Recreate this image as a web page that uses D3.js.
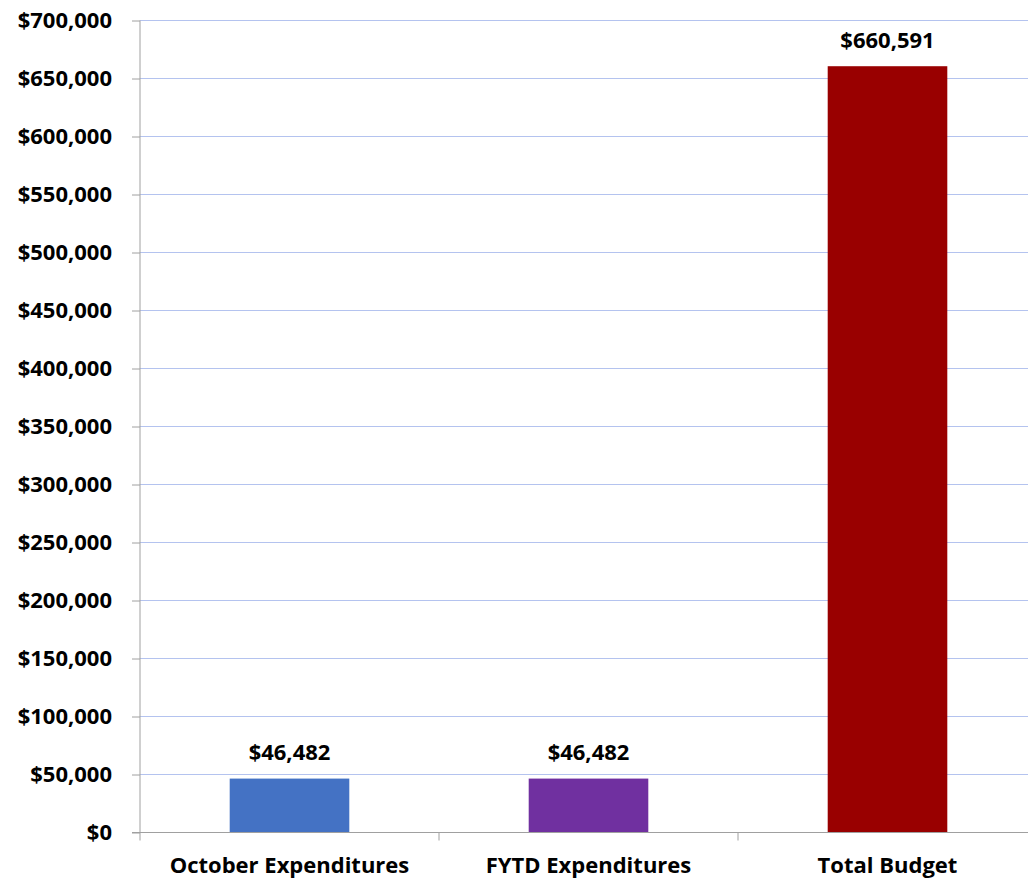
<!DOCTYPE html>
<html>
<head>
<meta charset="utf-8">
<script src="https://cdn.jsdelivr.net/npm/d3@7"></script>
<style>
	body { margin: 0; background: #fff; }
	text { font-family: "Open Sans", sans-serif; font-weight: bold; fill: #000; }
</style>
</head>
<body>
<script>
"use strict";

//chart data
const categories = ["October Expenditures", "FYTD Expenditures", "Total Budget"];
const values = [46482, 46482, 660591];
const bar_colors = ["#4472c4", "#7030a0", "#990000"];
const y_ticks = [0, 50000, 100000, 150000, 200000, 250000, 300000, 350000, 400000, 450000, 500000, 550000, 600000, 650000, 700000];

const width = 1028, height = 882;
const plot_left = 140, plot_right = 1037, plot_top = 20.5, plot_bottom = 832.5;
const font_size = 22;

let svg = d3.select("body").append("svg")
	.attr("width", width)
	.attr("height", height);

let x = d3.scaleBand()
	.domain(categories)
	.range([plot_left, plot_right])
	.paddingInner(0.6)
	.paddingOuter(0.3);

let y = d3.scaleLinear()
	.domain([0, 700000])
	.range([plot_bottom, plot_top]);

let money = d3.format("$,");

//gridlines
svg.append("g")
	.selectAll("line")
	.data(y_ticks.slice(1))
	.join("line")
	.attr("x1", plot_left)
	.attr("x2", plot_right)
	.attr("y1", d => y(d))
	.attr("y2", d => y(d))
	.attr("stroke", "#b4c3ef")
	.attr("stroke-width", 1);

//bars
svg.append("g")
	.selectAll("rect")
	.data(values)
	.join("rect")
	.attr("x", (d, i) => x(categories[i]))
	.attr("width", x.bandwidth())
	.attr("y", d => y(d))
	.attr("height", d => plot_bottom - y(d))
	.attr("fill", (d, i) => bar_colors[i]);

//value labels
svg.append("g")
	.selectAll("text")
	.data(values)
	.join("text")
	.attr("x", (d, i) => x(categories[i]) + x.bandwidth() / 2)
	.attr("y", d => y(d) - 18.5)
	.attr("text-anchor", "middle")
	.attr("font-size", font_size)
	.text(d => money(d));

//y axis
let y_axis = svg.append("g")
	.attr("transform", "translate(" + plot_left + ",0)")
	.call(d3.axisLeft(y).tickValues(y_ticks).tickFormat(money).tickSize(8).tickPadding(20));
y_axis.selectAll("text").attr("font-size", font_size).style("font-family", "'Open Sans', sans-serif");
y_axis.selectAll("line").attr("stroke", "#a0a0a0");
y_axis.select(".domain").attr("stroke", "#a0a0a0").attr("d", "M0," + plot_top + "V" + (plot_bottom + 8));

//x axis
let x_axis = svg.append("g")
	.attr("transform", "translate(0," + plot_bottom + ")");
x_axis.append("line")
	.attr("x1", plot_left - 8)
	.attr("x2", plot_right)
	.attr("stroke", "#a0a0a0");
x_axis.selectAll("line.tick")
	.data(categories.slice(1))
	.join("line")
	.attr("class", "tick")
	.attr("x1", d => x(d) - x.step() * x.paddingInner() / 2)
	.attr("x2", d => x(d) - x.step() * x.paddingInner() / 2)
	.attr("y1", 0)
	.attr("y2", 8)
	.attr("stroke", "#a0a0a0");
x_axis.selectAll("text")
	.data(categories)
	.join("text")
	.attr("x", d => x(d) + x.bandwidth() / 2)
	.attr("y", 40.5)
	.attr("text-anchor", "middle")
	.attr("font-size", font_size)
	.text(d => d);
</script>
</body>
</html>
